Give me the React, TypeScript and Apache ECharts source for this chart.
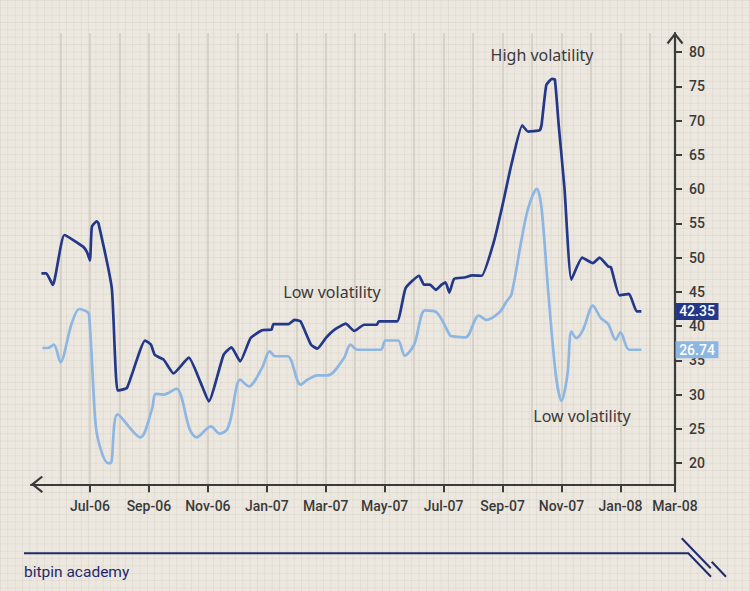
import React, { useEffect, useRef } from "react";
import * as echarts from "echarts";

// ---- data ----
const darkDates = [
  "2006-05-12", "2006-05-17", "2006-05-24", "2006-06-05", "2006-06-24", "2006-06-28", "2006-07-01", "2006-07-03",
  "2006-07-08", "2006-07-10", "2006-07-24", "2006-07-30", "2006-08-09", "2006-08-28", "2006-09-03", "2006-09-07",
  "2006-09-16", "2006-09-26", "2006-10-12", "2006-10-24", "2006-11-02", "2006-11-17", "2006-11-25", "2006-12-04",
  "2006-12-15", "2006-12-27", "2007-01-06", "2007-01-08", "2007-01-24", "2007-01-30", "2007-02-05", "2007-02-15",
  "2007-02-21", "2007-03-01", "2007-03-11", "2007-03-22", "2007-03-31", "2007-04-10", "2007-04-23", "2007-04-25",
  "2007-05-14", "2007-05-23", "2007-06-06", "2007-06-11", "2007-06-17", "2007-06-23", "2007-06-29", "2007-07-03",
  "2007-07-07", "2007-07-12", "2007-07-23", "2007-07-31", "2007-08-10", "2007-08-23", "2007-09-01", "2007-09-10",
  "2007-09-21", "2007-09-27", "2007-10-09", "2007-10-11", "2007-10-16", "2007-10-22", "2007-10-25", "2007-10-29",
  "2007-11-04", "2007-11-11", "2007-11-22", "2007-12-03", "2007-12-10", "2007-12-19", "2007-12-22", "2007-12-31",
  "2008-01-10", "2008-01-18", "2008-01-23",
];
const darkValues = [
  47.7, 47.7, 46.0, 53.3, 51.6, 50.8, 49.6, 54.5,
  55.3, 55.0, 45.5, 30.6, 31.0, 37.9, 37.3, 35.8,
  35.1, 33.1, 35.4, 31.9, 29.0, 35.8, 36.9, 34.85,
  38.25, 39.4, 39.5, 40.3, 40.3, 40.9, 40.7, 37.3,
  36.7, 38.25, 39.55, 40.35, 39.3, 40.2, 40.2, 40.7,
  40.7, 45.55, 47.35, 46.05, 46.05, 45.3, 46.05, 46.4,
  44.9, 46.9, 47.1, 47.4, 47.35, 52.4, 57.7, 63.6,
  69.3, 68.4, 68.6, 69.4, 75.2, 76.1, 76.0, 69.4,
  60.15, 46.8, 50.0, 49.2, 50.0, 48.7, 48.6, 44.5,
  44.7, 42.15, 42.15,
];

const lightDates = [
  "2006-05-13", "2006-05-19", "2006-05-25", "2006-06-01", "2006-06-12", "2006-06-20", "2006-06-26", "2006-06-30",
  "2006-07-07", "2006-07-13", "2006-07-20", "2006-07-23", "2006-07-30", "2006-08-23", "2006-09-04", "2006-09-08",
  "2006-09-16", "2006-09-29", "2006-10-13", "2006-10-20", "2006-11-04", "2006-11-13", "2006-11-20", "2006-11-24",
  "2006-12-04", "2006-12-13", "2006-12-27", "2007-01-04", "2007-01-10", "2007-01-23", "2007-02-05", "2007-02-12",
  "2007-02-21", "2007-03-03", "2007-03-20", "2007-03-27", "2007-04-03", "2007-04-27", "2007-05-02", "2007-05-15",
  "2007-05-22", "2007-06-01", "2007-06-12", "2007-06-24", "2007-07-08", "2007-07-11", "2007-07-24", "2007-08-07",
  "2007-08-15", "2007-08-29", "2007-09-05", "2007-09-10", "2007-09-20", "2007-09-27", "2007-10-06", "2007-10-11",
  "2007-10-18", "2007-10-26", "2007-11-01", "2007-11-07", "2007-11-11", "2007-11-16", "2007-11-23", "2007-12-03",
  "2007-12-11", "2007-12-19", "2007-12-27", "2008-01-01", "2008-01-10", "2008-01-23",
];
const lightValues = [
  36.8, 36.8, 37.3, 34.75, 40.2, 42.5, 42.25, 41.75,
  25.6, 21.7, 20.0, 20.0, 27.1, 23.75, 27.8, 30.1,
  30.0, 30.85, 24.9, 23.75, 25.35, 24.3, 24.8, 26.3,
  32.2, 31.2, 33.9, 36.3, 35.6, 35.6, 31.45, 32.2,
  32.8, 32.8, 35.3, 37.3, 36.55, 36.55, 37.9, 37.9,
  35.7, 37.3, 42.3, 42.0, 38.6, 38.5, 38.35, 41.55,
  40.9, 42.05, 43.6, 44.6, 52.4, 57.2, 60.05, 57.2,
  45.05, 32.9, 29.1, 32.9, 39.2, 38.25, 39.5, 43.0,
  41.25, 40.3, 38.0, 39.1, 36.55, 36.55,
];

const xTickLabels = ["Jul-06", "Sep-06", "Nov-06", "Jan-07", "Mar-07", "May-07", "Jul-07", "Sep-07", "Nov-07", "Jan-08", "Mar-08"];
const monthLines = ["Jun-06", "Jul-06", "Aug-06", "Sep-06", "Oct-06", "Nov-06", "Dec-06", "Jan-07", "Feb-07", "Mar-07", "Apr-07",
  "May-07", "Jun-07", "Jul-07", "Aug-07", "Sep-07", "Oct-07", "Nov-07", "Dec-07", "Jan-08", "Feb-08"];
const yTicks = [20, 25, 30, 35, 40, 45, 50, 55, 60, 65, 70, 75, 80];
const darkEndLabel = "42.35";
const lightEndLabel = "26.74";
const annotations = [
  { text: "High volatility", x: 542, y: 55 },
  { text: "Low volatility", x: 332, y: 292 },
  { text: "Low volatility", x: 582, y: 416 },
];

// ---- helpers ----
const MONTHS = ["Jan", "Feb", "Mar", "Apr", "May", "Jun", "Jul", "Aug", "Sep", "Oct", "Nov", "Dec"];
const BASE_YEAR = 2006;
function dateToMonth(s: string): number {
  const [y, m, d] = s.split("-").map(Number);
  const dim = new Date(y, m, 0).getDate();
  return (y - BASE_YEAR) * 12 + (m - 1) + (d - 1) / dim;
}
function labelToMonth(l: string): number {
  const [mon, yy] = l.split("-");
  return (2000 + Number(yy) - BASE_YEAR) * 12 + MONTHS.indexOf(mon);
}

const X_MIN = 4; // May-06
const X_MAX = 25.85;
const Y_MIN = 16.9;
const Y_MAX = 82.8;

const DARK = "#24388a";
const LIGHT = "#8db6e3";
const AXIS = "#3b3b3b";
const TEXT = "#3a3a3a";
const NAVY = "#1f2a6b";
const FONT = "Roboto, 'Noto Sans', sans-serif";
const ANN_FONT = "'Noto Sans', 'DejaVu Sans', sans-serif";

export default function App() {
  const ref = useRef<HTMLDivElement>(null);

  useEffect(() => {
    document.body.style.margin = "0";
    if (!ref.current) return;
    const chart = echarts.init(ref.current, null, { renderer: "svg" });

    const xTickValues = xTickLabels.map((l) => Math.min(labelToMonth(l), X_MAX));
    const monthLineValues = monthLines.map(labelToMonth);
    const dark = darkDates.map((d, i) => [dateToMonth(d), darkValues[i]]);
    const light = lightDates.map((d, i) => [dateToMonth(d), lightValues[i]]);

    const endBox = (value: number, color: string, text: string) => ({
      symbol: "rect",
      symbolSize: [43, 17],
      symbolOffset: [22, 0],
      silent: true,
      itemStyle: { color },
      label: {
        show: true,
        position: "inside",
        formatter: text,
        color: "#ffffff",
        fontSize: 14,
        fontWeight: 500,
        fontFamily: FONT,
      },
      data: [{ coord: [X_MAX, value] }],
    });

    chart.setOption({
      animation: false,
      backgroundColor: "transparent",
      grid: { left: 31, right: 75, top: 33, bottom: 106.7, containLabel: false },
      xAxis: [
        {
          type: "value",
          min: X_MIN,
          max: X_MAX,
          position: "bottom",
          axisLine: { show: true, onZero: false, lineStyle: { color: AXIS, width: 2.2 } },
          axisTick: { show: true, length: 8, lineStyle: { color: AXIS, width: 2 }, customValues: xTickValues },
          axisLabel: {
            show: true,
            customValues: xTickValues,
            margin: 15,
            color: TEXT,
            fontSize: 14,
            fontWeight: 500,
            fontFamily: FONT,
            formatter: (v: number) => {
              let best = 0;
              let bd = Infinity;
              xTickValues.forEach((t, i) => {
                const dd = Math.abs(t - v);
                if (dd < bd) { bd = dd; best = i; }
              });
              return xTickLabels[best];
            },
          },
          splitLine: { show: false },
        },
        {
          type: "value",
          min: X_MIN,
          max: X_MAX,
          position: "bottom",
          axisLine: { show: false },
          axisTick: { show: false, customValues: monthLineValues },
          axisLabel: { show: false, customValues: monthLineValues },
          splitLine: { show: true, lineStyle: { color: "#d2ccc2", width: 1.6 } },
        },
      ],
      yAxis: {
        type: "value",
        position: "right",
        min: Y_MIN,
        max: Y_MAX,
        axisLine: { show: true, onZero: false, lineStyle: { color: AXIS, width: 2.2 } },
        axisTick: { show: true, inside: false, length: 7, lineStyle: { color: AXIS, width: 2 }, customValues: yTicks },
        axisLabel: { show: true, customValues: yTicks, margin: 14, color: TEXT, fontSize: 14, fontWeight: 500, fontFamily: FONT },
        splitLine: { show: false },
      },
      series: [
        {
          type: "line",
          name: "light",
          xAxisIndex: 0,
          data: light,
          showSymbol: false,
          smooth: 0.3,
          lineStyle: { color: LIGHT, width: 2.7 },
          itemStyle: { color: LIGHT },
          markPoint: endBox(lightValues[lightValues.length - 1], LIGHT, lightEndLabel),
          z: 3,
        },
        {
          type: "line",
          name: "dark",
          xAxisIndex: 0,
          data: dark,
          showSymbol: false,
          smooth: 0.15,
          lineStyle: { color: DARK, width: 2.7 },
          itemStyle: { color: DARK },
          markPoint: endBox(darkValues[darkValues.length - 1], DARK, darkEndLabel),
          z: 4,
        },
      ],
      graphic: [
        // axis arrow heads
        {
          type: "polyline",
          z: 50,
          shape: { points: [[42.3, 476.5], [32.5, 484.3], [42.3, 492.1]] },
          style: { stroke: AXIS, lineWidth: 2.2, fill: "none" },
        },
        {
          type: "polyline",
          z: 50,
          shape: { points: [[667.5, 43.5], [675, 34], [682.5, 43.5]] },
          style: { stroke: AXIS, lineWidth: 2.2, fill: "none" },
        },
        ...annotations.map((a) => ({
          type: "text",
          z: 100,
          x: a.x,
          y: a.y,
          style: {
            text: a.text,
            fill: TEXT,
            fontSize: 16,
            fontFamily: ANN_FONT,
            align: "center",
            verticalAlign: "middle",
          },
        })),
        // footer
        {
          type: "polyline",
          z: 50,
          shape: { points: [[24, 553.3], [688.3, 553.3], [711, 576.7]] },
          style: { stroke: NAVY, lineWidth: 2, fill: "none" },
        },
        {
          type: "line",
          z: 50,
          shape: { x1: 681.7, y1: 538.3, x2: 710.7, y2: 568.3 },
          style: { stroke: NAVY, lineWidth: 2 },
        },
        {
          type: "line",
          z: 50,
          shape: { x1: 711.7, y1: 561.7, x2: 726, y2: 576.7 },
          style: { stroke: NAVY, lineWidth: 2 },
        },
        {
          type: "text",
          z: 100,
          x: 24,
          y: 572,
          style: {
            text: "bitpin academy",
            fill: NAVY,
            fontSize: 15.5,
            fontFamily: FONT,
            align: "left",
            verticalAlign: "middle",
          },
        },
      ],
    });

    return () => chart.dispose();
  }, []);

  const paper: React.CSSProperties = {
    position: "fixed",
    left: 0,
    top: 0,
    width: 750,
    height: 591,
    backgroundColor: "#ece8e0",
    backgroundImage:
      "linear-gradient(rgba(175,165,150,0.16) 1px, transparent 1px), linear-gradient(90deg, rgba(175,165,150,0.16) 1px, transparent 1px)",
    backgroundSize: "7.35px 7.35px",
  };

  return <div ref={ref} style={paper} />;
}
